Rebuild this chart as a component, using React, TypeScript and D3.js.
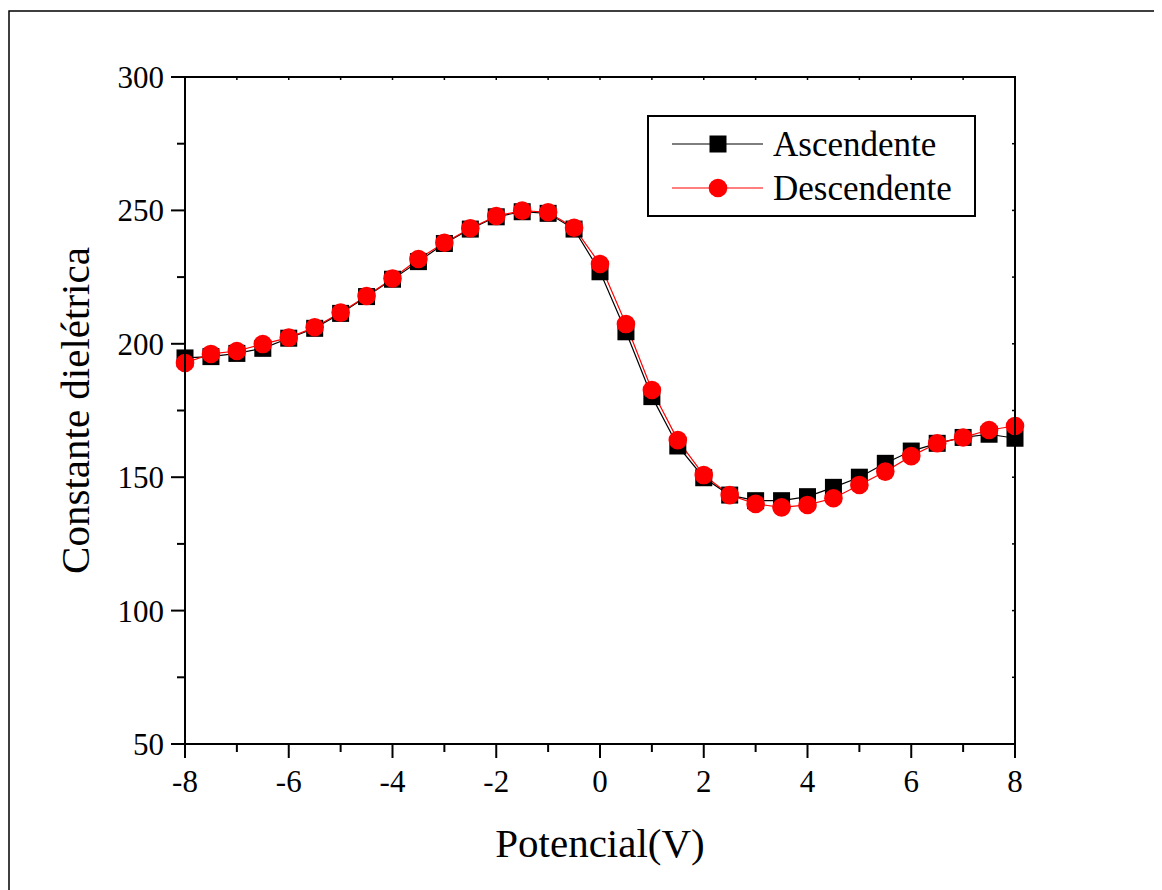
import React from "react";
import * as d3 from "d3";

const xValues = [-8, -7.5, -7, -6.5, -6, -5.5, -5, -4.5, -4, -3.5, -3, -2.5, -2, -1.5, -1, -0.5, 0, 0.5, 1, 1.5, 2, 2.5, 3, 3.5, 4, 4.5, 5, 5.5, 6, 6.5, 7, 7.5, 8];
const ascendente = [194.7, 195.2, 196.4, 198.3, 202.1, 205.8, 211.4, 217.7, 224.2, 230.8, 237.6, 243.0, 247.6, 249.5, 248.9, 243.0, 227.0, 204.5, 180.2, 161.7, 149.8, 143.3, 141.2, 141.2, 142.7, 146.2, 150.0, 155.2, 159.8, 162.7, 164.9, 166.1, 164.6];
const descendente = [192.8, 196.2, 197.3, 199.9, 202.3, 206.2, 211.7, 217.9, 224.5, 231.8, 237.9, 243.3, 247.9, 249.9, 249.3, 243.5, 229.9, 207.4, 182.7, 163.9, 150.8, 143.3, 140.0, 138.7, 139.6, 142.1, 147.1, 152.1, 157.9, 162.7, 164.9, 167.7, 169.2];
const xTicks = [-8, -6, -4, -2, 0, 2, 4, 6, 8];
const xMinor = [-7, -5, -3, -1, 1, 3, 5, 7];
const yTicks = [50, 100, 150, 200, 250, 300];
const yMinor = [75, 125, 175, 225, 275];
const seriesNames = ["Ascendente", "Descendente"];
const xTitle = "Potencial(V)";
const yTitle = "Constante dielétrica";

const FONT = "'Liberation Serif', 'Times New Roman', serif";

export default function App() {
  const left = 185, right = 1015, top = 77, bottom = 744;
  const x = d3.scaleLinear().domain([-8, 8]).range([left, right]);
  const y = d3.scaleLinear().domain([50, 300]).range([bottom, top]);
  const line = d3.line<number>().x((_, i) => x(xValues[i])).y((d) => y(d));
  const sq = 17;
  const cr = 9.3;

  return (
    <svg width={1154} height={882} style={{ display: "block", background: "#fff" }}>
      <g transform="translate(-8,-8)">
        <rect x={9} y={11} width={1300} height={1300} fill="none" stroke="#000" strokeWidth={1.5} />
        {/* series */}
        <path d={line(ascendente) || ""} fill="none" stroke="#000" strokeWidth={1.2} />
        <path d={line(descendente) || ""} fill="none" stroke="#ff0000" strokeWidth={1.2} />
        {ascendente.map((v, i) => (
          <rect key={"a" + i} x={x(xValues[i]) - sq / 2} y={y(v) - sq / 2} width={sq} height={sq} fill="#000" />
        ))}
        {descendente.map((v, i) => (
          <circle key={"d" + i} cx={x(xValues[i])} cy={y(v)} r={cr} fill="#ff0000" />
        ))}
        {/* mask overflow beyond plot at edges is allowed in reference; keep markers */}
        {/* axes frame */}
        <rect x={left} y={top} width={right - left} height={bottom - top} fill="none" stroke="#000" strokeWidth={2} />
        {/* bottom ticks */}
        {xTicks.map((t) => (
          <line key={"xt" + t} x1={x(t)} x2={x(t)} y1={bottom} y2={bottom + 14} stroke="#000" strokeWidth={2} />
        ))}
        {xMinor.map((t) => (
          <line key={"xm" + t} x1={x(t)} x2={x(t)} y1={bottom} y2={bottom + 8} stroke="#000" strokeWidth={2} />
        ))}
        {[...xTicks, ...xMinor].map((t) => (
          <line key={"xtt" + t} x1={x(t)} x2={x(t)} y1={top} y2={top + 3} stroke="#000" strokeWidth={1.5} />
        ))}
        {xTicks.map((t) => (
          <text key={"xl" + t} x={x(t)} y={792} textAnchor="middle" fontFamily={FONT} fontSize={31}>
            {t}
          </text>
        ))}
        {/* left ticks */}
        {yTicks.map((t) => (
          <line key={"yt" + t} x1={left - 14} x2={left} y1={y(t)} y2={y(t)} stroke="#000" strokeWidth={2} />
        ))}
        {yMinor.map((t) => (
          <line key={"ym" + t} x1={left - 8} x2={left} y1={y(t)} y2={y(t)} stroke="#000" strokeWidth={2} />
        ))}
        {[...yTicks, ...yMinor].map((t) => (
          <line key={"yr" + t} x1={right - 3} x2={right} y1={y(t)} y2={y(t)} stroke="#000" strokeWidth={1.5} />
        ))}
        {yTicks.map((t) => (
          <text key={"yl" + t} x={164} y={y(t) + 11} textAnchor="end" fontFamily={FONT} fontSize={31}>
            {t}
          </text>
        ))}
        {/* titles */}
        <text x={(left + right) / 2} y={857} textAnchor="middle" fontFamily={FONT} fontSize={41}>
          {xTitle}
        </text>
        <text
          transform={`translate(89,${(top + bottom) / 2}) rotate(-90)`}
          textAnchor="middle"
          fontFamily={FONT}
          fontSize={41}
        >
          {yTitle}
        </text>
        {/* legend */}
        <rect x={648} y={116} width={327} height={100} fill="#fff" stroke="#000" strokeWidth={2} />
        <line x1={672} x2={763} y1={144} y2={144} stroke="#000" strokeWidth={1.2} />
        <rect x={718 - sq / 2} y={144 - sq / 2} width={sq} height={sq} fill="#000" />
        <text x={773} y={156} fontFamily={FONT} fontSize={35}>{seriesNames[0]}</text>
        <line x1={672} x2={763} y1={188} y2={188} stroke="#ff0000" strokeWidth={1.2} />
        <circle cx={718} cy={188} r={cr} fill="#ff0000" />
        <text x={773} y={200} fontFamily={FONT} fontSize={35}>{seriesNames[1]}</text>
      </g>
    </svg>
  );
}
